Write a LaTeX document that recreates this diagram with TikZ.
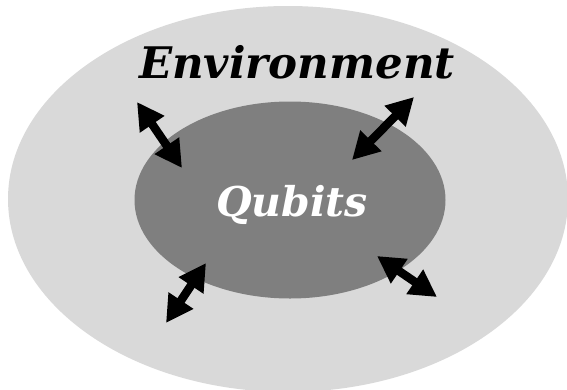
\documentclass[tikz,border=0pt]{standalone}
\usepackage{fontspec}
\setmainfont{DejaVu Serif}
\usetikzlibrary{arrows.meta,shapes.geometric}
\definecolor{envgray}{RGB}{217,217,217}
\definecolor{qubgray}{RGB}{127,127,127}
\begin{document}
\begin{tikzpicture}[x=1pt,y=-1pt,
  dbl/.style={line width=8.5pt,{Triangle[length=27pt,width=28pt]}-{Triangle[length=27pt,width=28pt]}},
  region/.style={ellipse,inner sep=0pt,draw=none},
  lbl/.style={inner sep=0pt}]
\useasboundingbox (0,0) rectangle (567,389);
\node[region,fill=envgray,minimum width=560pt,minimum height=386pt] (env) at (288,199) {};
\node[region,fill=qubgray,minimum width=311pt,minimum height=197pt] (qub) at (290,200) {};
\node[lbl,text=black,font=\fontsize{43.5}{44}\selectfont\bfseries\itshape] (envtxt) at (297,62) {Environment};
\node[lbl,text=white,font=\fontsize{41}{41}\selectfont\bfseries\itshape] (qubtxt) at (292,205) {Qubits};
\coordinate (a1) at (137,102); \coordinate (b1) at (182,168);
\coordinate (a2) at (414,97);  \coordinate (b2) at (352,160);
\coordinate (a3) at (206,263); \coordinate (b3) at (166,323);
\coordinate (a4) at (377,256); \coordinate (b4) at (437,297);
\draw[dbl] (a1) -- (b1);
\draw[dbl] (a2) -- (b2);
\draw[dbl] (a3) -- (b3);
\draw[dbl] (a4) -- (b4);
\end{tikzpicture}
\end{document}
